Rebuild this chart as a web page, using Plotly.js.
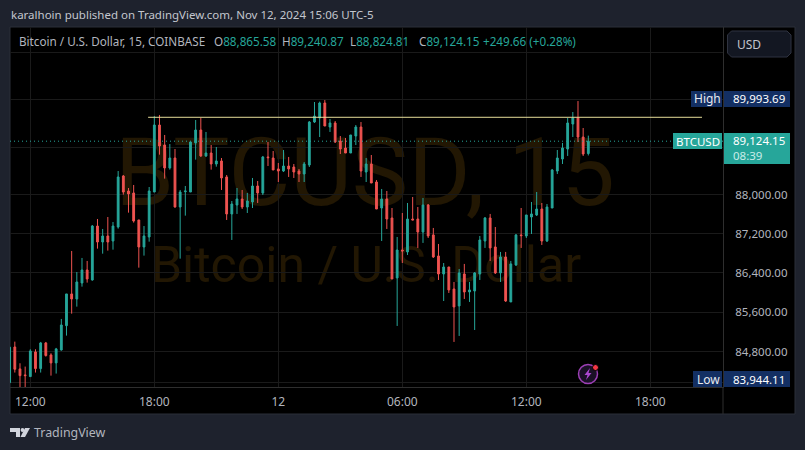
<!DOCTYPE html>
<html><head><meta charset="utf-8">
<script src="https://cdn.plot.ly/plotly-3.0.1.min.js"></script>
<style>html,body{margin:0;padding:0;background:#1e222d;overflow:hidden}#c{width:805px;height:450px}</style>
</head><body><div id="c"></div>
<script>
const times=["11-11 11:00","11-11 11:15","11-11 11:30","11-11 11:45","11-11 12:00","11-11 12:15","11-11 12:30","11-11 12:45","11-11 13:00","11-11 13:15","11-11 13:30","11-11 13:45","11-11 14:00","11-11 14:15","11-11 14:30","11-11 14:45","11-11 15:00","11-11 15:15","11-11 15:30","11-11 15:45","11-11 16:00","11-11 16:15","11-11 16:30","11-11 16:45","11-11 17:00","11-11 17:15","11-11 17:30","11-11 17:45","11-11 18:00","11-11 18:15","11-11 18:30","11-11 18:45","11-11 19:00","11-11 19:15","11-11 19:30","11-11 19:45","11-11 20:00","11-11 20:15","11-11 20:30","11-11 20:45","11-11 21:00","11-11 21:15","11-11 21:30","11-11 21:45","11-11 22:00","11-11 22:15","11-11 22:30","11-11 22:45","11-11 23:00","11-11 23:15","11-11 23:30","11-11 23:45","11-12 00:00","11-12 00:15","11-12 00:30","11-12 00:45","11-12 01:00","11-12 01:15","11-12 01:30","11-12 01:45","11-12 02:00","11-12 02:15","11-12 02:30","11-12 02:45","11-12 03:00","11-12 03:15","11-12 03:30","11-12 03:45","11-12 04:00","11-12 04:15","11-12 04:30","11-12 04:45","11-12 05:00","11-12 05:15","11-12 05:30","11-12 05:45","11-12 06:00","11-12 06:15","11-12 06:30","11-12 06:45","11-12 07:00","11-12 07:15","11-12 07:30","11-12 07:45","11-12 08:00","11-12 08:15","11-12 08:30","11-12 08:45","11-12 09:00","11-12 09:15","11-12 09:30","11-12 09:45","11-12 10:00","11-12 10:15","11-12 10:30","11-12 10:45","11-12 11:00","11-12 11:15","11-12 11:30","11-12 11:45","11-12 12:00","11-12 12:15","11-12 12:30","11-12 12:45","11-12 13:00","11-12 13:15","11-12 13:30","11-12 13:45","11-12 14:00","11-12 14:15","11-12 14:30","11-12 14:45","11-12 15:00"];
const opens=[84190,84900,84462,84342,84309,84801,84468,84981,84740,84581,84840,85328,85969,85867,86192,86457,86253,87358,87029,87153,87050,87338,88395,88083,88042,87483,86927,87132,88062,89465,89044,88563,88771,87751,88069,88062,89087,89359,88814,88876,88646,88709,88375,87607,87792,87917,87751,87855,88187,88042,88793,88771,88542,88499,88604,88583,88499,88437,88625,89528,89613,89931,89423,89508,89128,88981,88876,89233,89423,88478,88646,88270,87730,87917,87524,86294,86865,86825,87503,87503,87235,87792,87174,86743,86375,86518,86070,85726,86375,86009,86029,86375,87050,87524,86927,86396,86722,85807,86559,87174,87153,87544,87586,87709,87050,87730,88499,88750,88960,89486,89613,89212,88865.58];
const highs=[84907,85007,84574,84508,84854,84854,85001,85001,84774,84881,85463,85969,86845,86415,86702,86641,87379,87503,87297,87544,87441,88499,88416,88145,88208,87483,87358,88166,89655,89677,89255,89065,88960,88104,88187,89114,89571,89613,89318,89044,89002,88771,88416,87875,88145,88104,88042,88354,88291,88814,89107,88918,88666,88939,88793,88646,88542,88688,89549,89952,89960,89993.69,89592,89549,89233,89191,89255,89465,89528,88771,88834,88311,88125,88083,87730,87132,87627,87834,87958,87751,87938,87813,87318,86989,86599,86518,86212,86477,86580,86212,86415,87153,87544,87607,87338,86825,86825,86641,87194,87730,87586,87855,88062,87834,87813,88542,88939,89087,89613,89740,89972,89402,89240.87];
const lows=[84176,84389,84050,83944.11,84302,84389,84389,84708,84328,84369,84827,85128,85570,85712,86117,86199,86239,86893,86790,86852,86872,87304,88007,87634,87428,86504,86750,87036,88062,88841,88340,88528,87737,86688,87572,88062,88737,88793,88793,88528,88590,88104,87483,87071,87607,87709,87627,87730,87834,88000,88604,88521,88270,88478,88375,88354,88270,88270,88583,89508,89212,89444,89318,89087,88855,88876,88876,89044,88375,88270,88249,87709,87050,87297,86273,85322,86599,86763,87483,86907,87010,87111,86702,86253,85826,85989,85001,85121,85867,85807,85241,86253,86907,86641,86375,86212,85807,85807,86538,86907,87111,87194,87565,86968,87029,87730,88437,88646,88814,89212,89107,88814,88824.81];
const closes=[84894,84455,84328,84328,84820,84468,84981,84728,84581,84861,85342,85969,85867,86212,86457,86273,87358,87029,87153,87029,87358,88375,88062,88021,87462,86927,87153,88083,89465,89023,88563,88771,87751,88062,88083,89107,89359,88814,88876,88646,88709,88354,87607,87813,87917,87751,87875,88187,88042,88793,88778,88521,88499,88604,88542,88478,88437,88646,89528,89655,89931,89444,89508,89107,88960,88876,89255,89423,88499,88646,88249,87709,87917,87503,86273,86865,86845,87503,87483,87235,87792,87153,86722,86375,86518,86050,85705,86396,86009,86050,86396,87071,87524,86907,86396,86722,85826,86580,87174,87160,87586,87607,87709,87050,87751,88521,88771,88981,89508,89613,89212,88855,89124.15];
const xTickDates=["2024-11-11 12:00","2024-11-11 18:00","2024-11-12 00:00","2024-11-12 06:00","2024-11-12 12:00","2024-11-12 18:00"];
const xTickLabels=["12:00","18:00","12","06:00","12:00","18:00"];
const yTickValues=[84200,84800,85600,86400,87200,88000,89000,90000,91000];
const yTickLabels=["","84,800.00","85,600.00","86,400.00","87,200.00","88,000.00","","",""];
const resistance=89628, lastPrice=89124.15;
const resistanceSpan=["2024-11-11 17:42","2024-11-12 20:30"];
const xRange=["2024-11-11 11:01","2024-11-12 21:31"];
const yBottom=84102, yTop=91558;

const TEAL='#26a69a',RED='#ef5350',AXIS='#b2b5be',BORDER='#2a2e39',F='"Noto Sans",sans-serif';
const L=10,R=723,T=27,B=387;
const px=v=>(v-L)/(R-L), py=v=>(B-v)/(B-T);
const rect=(x0,y0,x1,y1,fill,line,layer)=>({type:'rect',xref:'paper',yref:'paper',x0:px(x0),x1:px(x1),y0:py(y0),y1:py(y1),fillcolor:fill,line:{color:line||fill,width:line?1:0},layer:layer||'above'});
const pathShape=(pts,fill,layer)=>({type:'path',xref:'paper',yref:'paper',path:'M'+pts.map(p=>px(p[0])+','+py(p[1])).join('L')+'Z',fillcolor:fill,line:{width:0},layer:layer||'above'});
const circle=(cx,cy,r,fill,line,w)=>({type:'circle',xref:'paper',yref:'paper',x0:px(cx-r),x1:px(cx+r),y0:py(cy+r),y1:py(cy-r),fillcolor:fill,line:{color:line||fill,width:w||0},layer:'above'});
const text=(x,y,t,size,color,anchor,extra)=>Object.assign({xref:'paper',yref:'paper',x:px(x),y:py(y),text:t,showarrow:false,xanchor:anchor||'left',yanchor:'middle',borderpad:0,font:{family:F,size:size,color:color}},extra||{});
const label=(x0,y0,x1,y1,t,size,family)=>({type:'rect',xref:'paper',yref:'paper',x0:px(x0),x1:px(x1),y0:py(y0),y1:py(y1),fillcolor:'rgba(0,0,0,0)',line:{width:0},layer:'below',label:{text:t,textposition:'middle center',font:{family:family,size:size,color:'#221703'}}});
const g=v=>'<span style="color:'+TEAL+'">'+v+'</span>';

const traces=[
 {type:'candlestick',x:times.map(t=>'2024-'+t),open:opens,high:highs,low:lows,close:closes,
  increasing:{line:{color:TEAL,width:1},fillcolor:TEAL},decreasing:{line:{color:RED,width:1},fillcolor:RED},
  whiskerwidth:0,hoverinfo:'skip',showlegend:false},
 {type:'scatter',mode:'lines',x:xRange,y:[lastPrice,lastPrice],line:{color:TEAL,width:1,dash:'1px 3px'},hoverinfo:'skip',showlegend:false},
 {type:'scatter',mode:'lines',x:resistanceSpan,y:[resistance,resistance],line:{color:'#e6dd9a',width:1},hoverinfo:'skip',showlegend:false}
];
const layout={
 width:805,height:450,paper_bgcolor:'#1e222d',plot_bgcolor:'#000',showlegend:false,
 margin:{l:L,r:805-R,t:T,b:450-B,pad:0},boxgap:0.5,
 xaxis:{type:'date',range:xRange,rangeslider:{visible:false},tickmode:'array',tickvals:xTickDates,ticktext:xTickLabels,
  showgrid:true,gridcolor:'#1a1a1a',gridwidth:1,zeroline:false,showline:true,linecolor:'#2e2e2e',linewidth:1,ticks:'',ticklabelstandoff:4,
  tickfont:{family:F,size:12,color:AXIS}},
 yaxis:{type:'log',side:'right',range:[Math.log10(yBottom),Math.log10(yTop)],tickmode:'array',tickvals:yTickValues,ticktext:yTickLabels,
  showgrid:true,gridcolor:'#1a1a1a',gridwidth:1,zeroline:false,showline:true,linecolor:'#2e2e2e',linewidth:1,ticks:'',ticklabelstandoff:9,
  tickfont:{family:F,size:11.5,color:AXIS}},
 shapes:[
  rect(10,27,795,414,'#000','#2a2e39','below'),
  label(118,110,612,220,'BTCUSD, 15',95,'Roboto, sans-serif'),
  label(150,236,582,286,'Bitcoin / U.S. Dollar',50,'Roboto, sans-serif'),
  {type:'line',xref:'paper',yref:'paper',x0:px(723),x1:px(723),y0:py(387),y1:py(414),line:{color:'#2e2e2e',width:1},layer:'above'},
  rect(691,91,722,107,'#132f63'),rect(724,91,790,107,'#132f63'),
  rect(673,133,722,149,TEAL),rect(724,133,790,164,TEAL),
  rect(693,371,722,387,'#132f63'),rect(724,371,790,387,'#132f63'),
  {type:'path',xref:'paper',yref:'paper',path:(()=>{const a=727.5,b=791,c=31,d=57,r=4,xs=v=>px(v),ys=v=>py(v);return `M${xs(a+r)},${ys(c)}L${xs(b-r)},${ys(c)}L${xs(b)},${ys(c+r)}L${xs(b)},${ys(d-r)}L${xs(b-r)},${ys(d)}L${xs(a+r)},${ys(d)}L${xs(a)},${ys(d-r)}L${xs(a)},${ys(c+r)}Z`})(),fillcolor:'#131722',line:{color:'#2f3340',width:1},layer:'above'},
  circle(588,374,9.5,'#1a1026','#9c3fb5',1.5),
  pathShape([[590,368],[584.5,375],[587.5,375],[586,380],[591.5,373],[588.5,373]],'#ab47d0'),
  circle(595.5,367.5,3,'#f23645','#000',1),
  pathShape([[10,428],[20,428],[20,437],[16,437],[16,432],[10,432]],'#d1d4dc'),
  circle(22.5,430,1.9,'#d1d4dc'),
  pathShape([[25,428],[30,428],[25,437],[20.5,437]],'#d1d4dc')
 ],
 annotations:[
  text(10,15,'karalhoin published on TradingView.com, Nov 12, 2024 15:06 UTC-5',11.5,'#c3c6ce'),
  text(18,41,'Bitcoin / U.S. Dollar, 15, COINBASE',11.7,AXIS),
  text(213,41,'O'+g('88,865.58'),11.7,AXIS),
  text(281,41,'H'+g('89,240.87'),11.7,AXIS),
  text(349,41,'L'+g('88,824.81'),11.7,AXIS),
  text(418,41,'C'+g('89,124.15'),11.7,AXIS),
  text(482,41,g('+249.66 (+0.28%)'),11.7,AXIS),
  text(736,44,'USD',12,'#c3c6ce'),
  text(707,99,'High',12,'#e8eaf0','center'),
  text(732,99,'89,993.69',11.5,'#ffffff'),
  text(698,141.5,'BTCUSD',11.5,'#ffffff','center'),
  text(732,140,'89,124.15',11.5,'#ffffff'),
  text(732,155,'08:39',11.5,'#c8ece8'),
  text(708,379,'Low',12,'#e8eaf0','center'),
  text(732,379,'83,944.11',11.5,'#ffffff'),
  text(33,432,'TradingView',12.4,'#b2b5be')
 ]
};
Plotly.newPlot('c',traces,layout,{staticPlot:true,displayModeBar:false});
</script></body></html>
